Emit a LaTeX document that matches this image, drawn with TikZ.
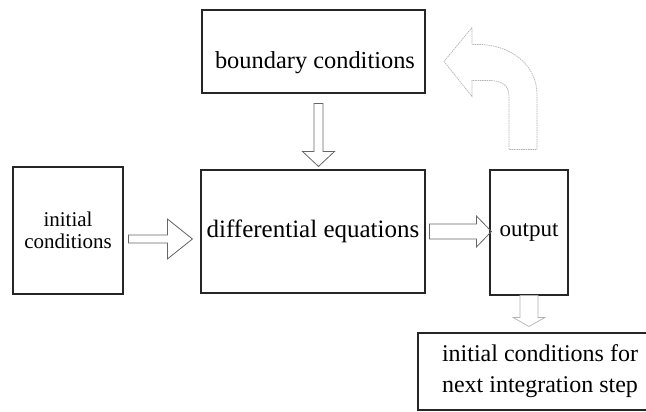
\documentclass[tikz,border=0pt]{standalone}
\usepackage{fontspec}
\setmainfont{Liberation Serif}
\usetikzlibrary{calc}

\tikzset{
	block/.style={draw=black!85, line width=1.1pt, inner sep=0pt},
	fat/.style={draw=black!60, line width=0.8pt},
	faint/.style={draw=black!30, line width=0.7pt},
}

% block arrow to the right: start, tip, half shaft, half head, head length
\newcommand{\harrow}[6][fat]{%
	\draw[#1] let \p1=(#2), \p2=(#3) in
		(\x1,\y1+#4) -- (\x2-#6,\y1+#4) -- (\x2-#6,\y1+#5) -- (\x2,\y1)
		-- (\x2-#6,\y1-#5) -- (\x2-#6,\y1-#4) -- (\x1,\y1-#4) -- cycle;}
% block arrow pointing down, same arguments
\newcommand{\varrow}[6][fat]{%
	\draw[#1] let \p1=(#2), \p2=(#3) in
		(\x1+#4,\y1) -- (\x1+#4,\y2+#6) -- (\x1+#5,\y2+#6) -- (\x1,\y2)
		-- (\x1-#5,\y2+#6) -- (\x1-#4,\y2+#6) -- (\x1-#4,\y1) -- cycle;}

\begin{document}
\begin{tikzpicture}[x=1pt, y=-1pt]
		\clip (0,0) rectangle (646,412);

		% Boxes
		\node[block, minimum width=223pt, minimum height=83pt,
			label={[xshift=1.5pt, yshift=-11pt]center:\fontsize{24.4}{29}\selectfont boundary conditions}]
			(bc) at (313.5,51.5) {};
		\node[block, minimum width=224pt, minimum height=123pt, font=\fontsize{25}{30}\selectfont]
			(de) at (313,231.5) {differential equations};
		\node[block, minimum width=110pt, minimum height=127pt, align=center, font=\fontsize{21}{22}\selectfont]
			(ic) at (68,230.5) {initial\\conditions};
		\node[block, minimum width=78pt, minimum height=125pt, font=\fontsize{23}{28}\selectfont]
			(out) at (529,232.5) {output};
		\node[block, minimum width=244pt, minimum height=77pt, align=center, font=\fontsize{24}{31}\selectfont]
			(next) at (540,371.5) {initial conditions for\\next integration step};

		% Block arrows
		\harrow{$(ic.east)+(5,8.5)$}{$(de.west)+(-8,8.5)$}{4pt}{20pt}{25pt}
		\harrow{$(de.east)+(4,0)$}{$(out.west)+(2,0)$}{7.5pt}{15.5pt}{15pt}
		\varrow{$(bc.south)+(5,10)$}{$(de.north)+(5,-3)$}{4.5pt}{16pt}{15pt}
		\varrow[faint]{out.south}{$(next.north)+(0,-6)$}{9pt}{16pt}{9pt}

		% Feedback arrow back to the boundary conditions
		\draw[faint, dash pattern=on 1.5pt off 0.8pt, shift={(out.north)}]
			(-57,-142) -- (-85,-108) -- (-57,-73) -- (-57,-89) -- (-41,-89)
			.. controls (-24,-89) and (-20,-82) .. (-20,-72) -- (-20,-20) -- (8,-20)
			-- (8,-75) .. controls (8,-105) and (-19,-125) .. (-51,-125) -- (-57,-125) -- cycle;
	\end{tikzpicture}
\end{document}
